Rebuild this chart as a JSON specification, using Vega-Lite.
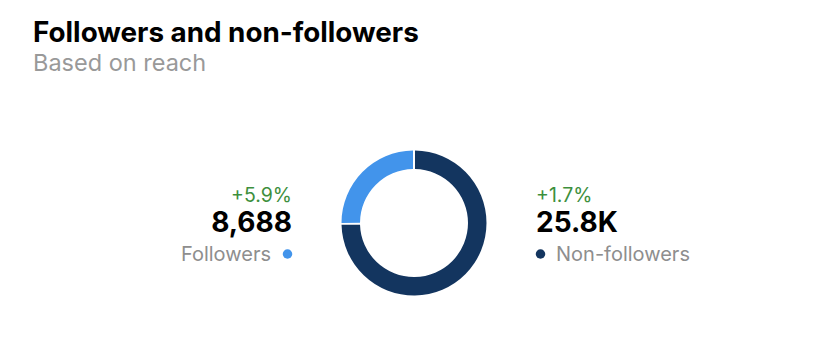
{
  "$schema": "https://vega.github.io/schema/vega-lite/v6.json",
  "width": 828,
  "height": 359,
  "autosize": {"type": "fit", "contains": "padding"},
  "padding": {"left": 33, "right": 33, "top": 19, "bottom": 0},
  "background": "white",
  "config": {"view": {"stroke": null}, "font": "Inter"},
  "title": {
    "text": "Followers and non-followers",
    "subtitle": "Based on reach",
    "anchor": "start",
    "font": "Inter",
    "fontSize": 27.8,
    "fontWeight": "bold",
    "color": "#000000",
    "subtitleFont": "Inter",
    "subtitleFontSize": 23.5,
    "subtitleColor": "#999999",
    "subtitlePadding": 4,
    "offset": 12
  },
  "data": {
    "values": [
      {"name": "Followers", "reach": 8688, "display": "8,688", "change": "+5.9%"},
      {"name": "Non-followers", "reach": 25800, "display": "25.8K", "change": "+1.7%"}
    ]
  },
  "encoding": {
    "x": {"field": "name", "type": "nominal", "scale": {"type": "point", "padding": 1, "domain": ["Followers", "Non-followers"]}, "axis": null}
  },
  "layer": [
    {
      "mark": {"type": "arc", "innerRadius": 54, "outerRadius": 72.5, "padAngle": 0.022},
      "encoding": {
        "x": null,
        "theta": {"field": "reach", "type": "quantitative", "stack": true},
        "color": {"field": "name", "type": "nominal", "scale": {"domain": ["Followers", "Non-followers"], "range": ["#4294EB", "#13355F"]}, "legend": null},
        "order": {"field": "name", "sort": "descending"}
      }
    },
    {
      "transform": [{"filter": "datum.name === 'Followers'"}],
      "mark": {"type": "text", "align": "right", "baseline": "alphabetic", "dx": 5, "dy": -21.5, "fontSize": 19.5, "color": "#3D8F3D"},
      "encoding": {"text": {"field": "change"}}
    },
    {
      "transform": [{"filter": "datum.name === 'Followers'"}],
      "mark": {"type": "text", "align": "right", "baseline": "alphabetic", "dx": 5, "dy": 9, "fontSize": 28, "fontWeight": "bold", "color": "#000000"},
      "encoding": {"text": {"field": "display"}}
    },
    {
      "transform": [{"filter": "datum.name === 'Followers'"}],
      "mark": {"type": "text", "align": "right", "baseline": "alphabetic", "dy": 38, "dx": -16, "fontSize": 20, "color": "#8E8E8E"},
      "encoding": {"text": {"field": "name"}}
    },
    {
      "transform": [{"filter": "datum.name === 'Followers'"}],
      "mark": {"type": "point", "filled": true, "opacity": 1, "size": 90, "xOffset": 0.5, "yOffset": 31},
      "encoding": {"color": {"field": "name", "type": "nominal", "legend": null}}
    },
    {
      "transform": [{"filter": "datum.name === 'Non-followers'"}],
      "mark": {"type": "text", "align": "left", "baseline": "alphabetic", "dx": -5, "dy": -21.5, "fontSize": 19.5, "color": "#3D8F3D"},
      "encoding": {"text": {"field": "change"}}
    },
    {
      "transform": [{"filter": "datum.name === 'Non-followers'"}],
      "mark": {"type": "text", "align": "left", "baseline": "alphabetic", "dx": -5, "dy": 9, "fontSize": 28, "fontWeight": "bold", "color": "#000000"},
      "encoding": {"text": {"field": "display"}}
    },
    {
      "transform": [{"filter": "datum.name === 'Non-followers'"}],
      "mark": {"type": "text", "align": "left", "baseline": "alphabetic", "dy": 38, "dx": 15, "fontSize": 20, "color": "#8E8E8E"},
      "encoding": {"text": {"field": "name"}}
    },
    {
      "transform": [{"filter": "datum.name === 'Non-followers'"}],
      "mark": {"type": "point", "filled": true, "opacity": 1, "size": 90, "xOffset": -0.5, "yOffset": 31},
      "encoding": {"color": {"field": "name", "type": "nominal", "legend": null}}
    }
  ]
}
